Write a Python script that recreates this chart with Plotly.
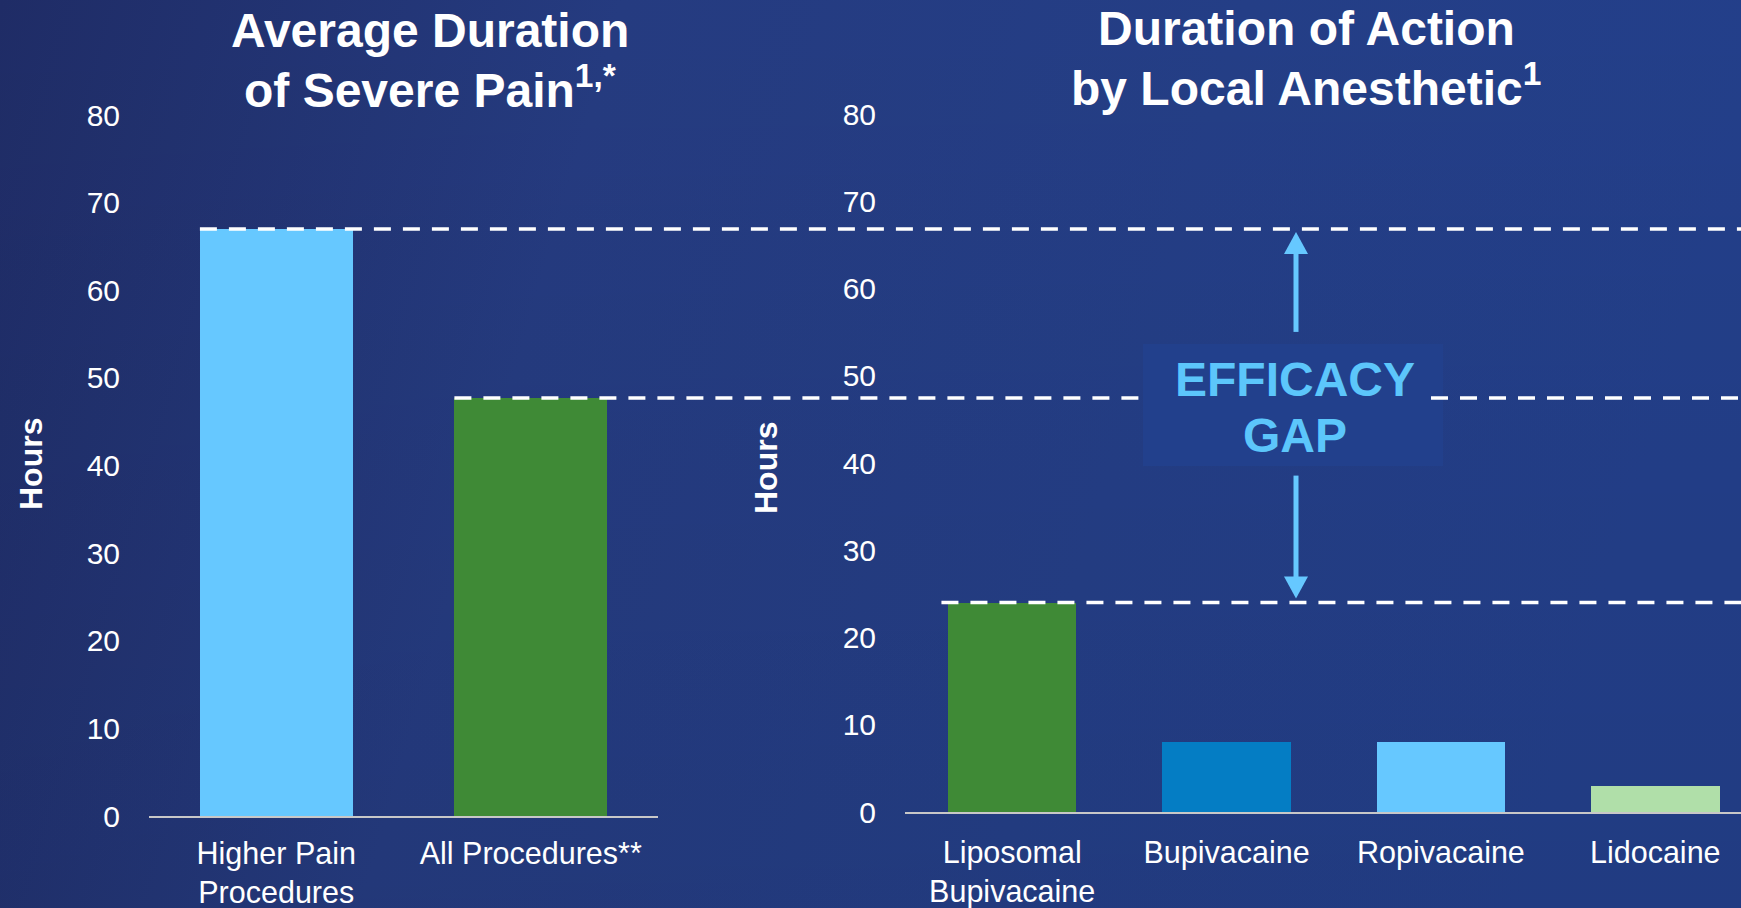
import base64
import plotly.graph_objects as go

# ---------------- data ----------------
left_categories = ["Higher Pain<br>Procedures", "All Procedures**"]
left_values = [67, 47.7]
left_colors = ["#66c8ff", "#3f8a36"]

right_categories = ["Liposomal<br>Bupivacaine", "Bupivacaine", "Ropivacaine", "Lidocaine"]
right_values = [24, 8, 8, 3]
right_colors = ["#3f8a36", "#047dc4", "#66c8ff", "#b0dfa9"]

y_ticks = [0, 10, 20, 30, 40, 50, 60, 70, 80]

left_title_lines = ["Average Duration", "of Severe Pain<sup>1,*</sup>"]
right_title_lines = ["Duration of Action", "by Local Anesthetic<sup>1</sup>"]
axis_title = "Hours"
gap_lines = ["EFFICACY", "GAP"]

# ---------------- layout helpers ----------------
W, H = 1741, 908
FONT = "Arial, Liberation Sans, sans-serif"
BAR_W = 0.6


def px(x):
    return x / W


def py(y):
    return 1 - y / H


L_DOM = [px(149), px(658)]
L_RANGE = [-0.5, 1.5]
R_DOM = [px(905), 1.0]
R_RANGE = [-0.5, 3.4]


def xpaper(idx, dom, rng):
    return dom[0] + (idx - rng[0]) / (rng[1] - rng[0]) * (dom[1] - dom[0])


fig = go.Figure()
fig.add_trace(go.Bar(x=list(range(len(left_categories))), y=left_values,
                     marker=dict(color=left_colors, line=dict(width=0)),
                     width=BAR_W, xaxis="x", yaxis="y", showlegend=False,
                     hoverinfo="skip"))
fig.add_trace(go.Bar(x=list(range(len(right_categories))), y=right_values,
                     marker=dict(color=right_colors, line=dict(width=0)),
                     width=BAR_W, xaxis="x2", yaxis="y2", showlegend=False,
                     hoverinfo="skip"))

tickfont = dict(family=FONT, size=30, color="white")
catfont = dict(family=FONT, size=30.5, color="white")

# background gradient
svg = f'''<svg xmlns="http://www.w3.org/2000/svg" width="{W}" height="{H}" preserveAspectRatio="none">
<defs>
<linearGradient id="g" x1="0" y1="0" x2="1" y2="0.15">
<stop offset="0" stop-color="#1f2c66"/>
<stop offset="0.35" stop-color="#253b80"/>
<stop offset="0.7" stop-color="#243e86"/>
<stop offset="1" stop-color="#233f8a"/>
</linearGradient>
<linearGradient id="v" x1="0" y1="0" x2="0" y2="1">
<stop offset="0" stop-color="#000" stop-opacity="0"/>
<stop offset="1" stop-color="#000" stop-opacity="0.06"/>
</linearGradient>
</defs>
<rect width="100%" height="100%" fill="url(#g)"/>
<rect width="100%" height="100%" fill="url(#v)"/>
</svg>'''
bg = "data:image/svg+xml;base64," + base64.b64encode(svg.encode()).decode()

fig.update_layout(
    width=W, height=H,
    margin=dict(l=0, r=0, t=0, b=0),
    paper_bgcolor="#243a80",
    plot_bgcolor="rgba(0,0,0,0)",
    bargap=0,
    images=[dict(source=bg, xref="paper", yref="paper", x=0, y=1,
                 sizex=1, sizey=1, xanchor="left", yanchor="top",
                 sizing="stretch", layer="below")],
    xaxis=dict(domain=L_DOM, range=L_RANGE, tickmode="array",
               tickvals=list(range(len(left_categories))),
               ticktext=left_categories, tickfont=catfont,
               showline=True, linecolor="#c8c8c8", linewidth=2,
               showgrid=False, zeroline=False, ticks="",
               ticklabelstandoff=9, anchor="y", fixedrange=True,
               automargin=False),
    yaxis=dict(domain=[py(816), py(115)], range=[0, 80], tickmode="array",
               tickvals=y_ticks, ticktext=[str(v) for v in y_ticks],
               tickfont=tickfont, showline=False, showgrid=False,
               zeroline=False, ticks="", ticklabelstandoff=28,
               anchor="x", fixedrange=True, automargin=False),
    xaxis2=dict(domain=R_DOM, range=R_RANGE, tickmode="array",
                tickvals=list(range(len(right_categories))),
                ticktext=right_categories, tickfont=catfont,
                showline=True, linecolor="#c8c8c8", linewidth=2,
                showgrid=False, zeroline=False, ticks="",
                ticklabelstandoff=12, anchor="y2", fixedrange=True,
                automargin=False),
    yaxis2=dict(domain=[py(812), py(114)], range=[0, 80], tickmode="array",
                tickvals=y_ticks, ticktext=[str(v) for v in y_ticks],
                tickfont=tickfont, showline=False, showgrid=False,
                zeroline=False, ticks="", ticklabelstandoff=28,
                anchor="x2", fixedrange=True, automargin=False),
)

# box behind the EFFICACY GAP label
BOX = dict(x0=1143, x1=1443, y0=344, y1=466)
fig.add_shape(type="rect", xref="paper", yref="paper",
              x0=px(BOX["x0"]), x1=px(BOX["x1"]), y0=py(BOX["y1"]), y1=py(BOX["y0"]),
              fillcolor="#22408c", line=dict(width=0), layer="below")

dash = dict(color="white", width=3.5, dash="17px,12px")
# dashed reference lines
fig.add_shape(type="line", xref="paper", yref="y",
              x0=xpaper(0 - BAR_W / 2, L_DOM, L_RANGE), x1=1.0,
              y0=left_values[0], y1=left_values[0], line=dash)
fig.add_shape(type="line", xref="paper", yref="y",
              x0=xpaper(1 - BAR_W / 2, L_DOM, L_RANGE), x1=px(BOX["x0"]),
              y0=left_values[1], y1=left_values[1], line=dash)
fig.add_shape(type="line", xref="paper", yref="y",
              x0=px(BOX["x1"] - 12), x1=1.0,
              y0=left_values[1], y1=left_values[1], line=dash)
fig.add_shape(type="line", xref="paper", yref="y2",
              x0=xpaper(0 - BAR_W / 2 - 0.03, R_DOM, R_RANGE), x1=1.0,
              y0=right_values[0], y1=right_values[0], line=dash)

# arrows (pixel-sized shapes anchored to the reference values)
ARROW_X = px(1296)
ARROW_C = "#66c8ff"
HEAD_L, HEAD_HW, SHAFT_W = 22, 12, 5


def add_arrow(yref, yval, tip_off, tail_off):
    """tip_off/tail_off: pixel offsets (up positive) from the reference line."""
    sign = 1 if tail_off > tip_off else -1
    base = tip_off + sign * HEAD_L
    fig.add_shape(type="line", xref="paper", yref=yref,
                  xsizemode="pixel", ysizemode="pixel",
                  xanchor=ARROW_X, yanchor=yval,
                  x0=0, x1=0, y0=base - sign * 1, y1=tail_off,
                  line=dict(color=ARROW_C, width=SHAFT_W))
    fig.add_shape(type="path", xref="paper", yref=yref,
                  xsizemode="pixel", ysizemode="pixel",
                  xanchor=ARROW_X, yanchor=yval,
                  path=f"M {-HEAD_HW} {base} L {HEAD_HW} {base} L 0 {tip_off} Z",
                  fillcolor=ARROW_C, line=dict(width=0))


add_arrow("y", left_values[0], -3, -103)
add_arrow("y2", right_values[0], 4, 127)

gap_font = dict(family=FONT, size=48, color="#5cc6fb")
for text, yc in [(gap_lines[0], 379), (gap_lines[1], 435)]:
    fig.add_annotation(x=px(1295), y=py(yc), xref="paper", yref="paper",
                       text=f"<b>{text}</b>", showarrow=False, font=gap_font,
                       xanchor="center", yanchor="middle", align="center")

title_font = dict(family=FONT, size=48, color="white")
for text, xc, yc in [(left_title_lines[0], 430, 30), (left_title_lines[1], 430, 87),
                     (right_title_lines[0], 1306, 28), (right_title_lines[1], 1306, 85)]:
    fig.add_annotation(x=px(xc), y=py(yc), xref="paper", yref="paper",
                       text=f"<b>{text}</b>", showarrow=False, font=title_font,
                       xanchor="center", yanchor="middle", align="center")

hours_font = dict(family=FONT, size=32, color="white")
fig.add_annotation(x=px(31), y=py(464), xref="paper", yref="paper",
                   text=f"<b>{axis_title}</b>", showarrow=False, font=hours_font,
                   textangle=-90, xanchor="center", yanchor="middle")
fig.add_annotation(x=px(766), y=py(468), xref="paper", yref="paper",
                   text=f"<b>{axis_title}</b>", showarrow=False, font=hours_font,
                   textangle=-90, xanchor="center", yanchor="middle")

fig.write_html("out.html", config={"displayModeBar": False},
               post_script="document.body.style.margin='0';"
                           "document.body.style.overflow='hidden';")
